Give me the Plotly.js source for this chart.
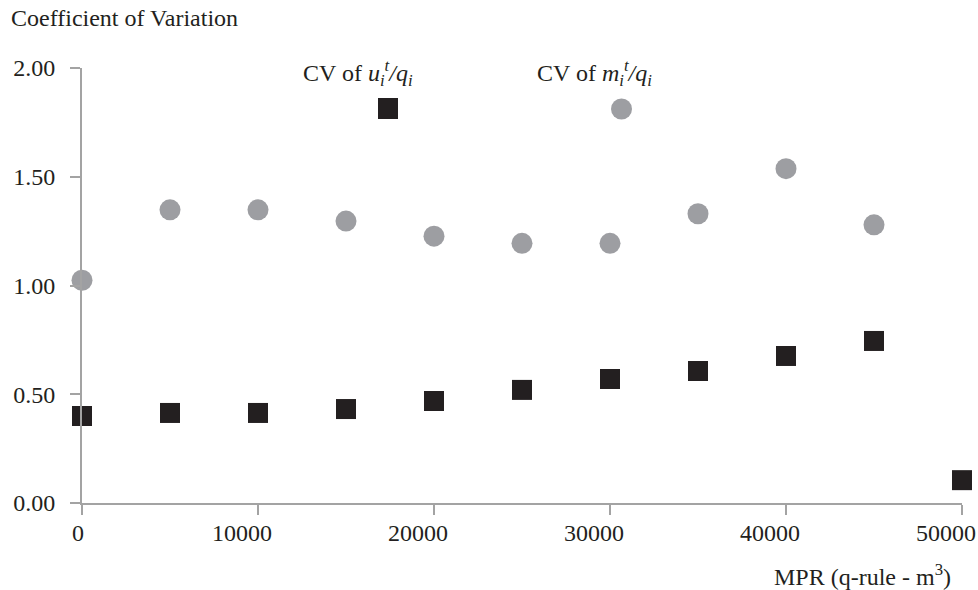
<!DOCTYPE html>
<html>
<head>
<meta charset="utf-8">
<script src="https://cdn.plot.ly/plotly-3.0.1.min.js"></script>
<style>
  html, body { margin: 0; padding: 0; background: #ffffff; }
  #chart { width: 978px; height: 590px; }
</style>
</head>
<body>
<div id="chart"></div>
<script>
// MPR levels (q-rule, m3)
const mpr = [0, 5000, 10000, 15000, 20000, 25000, 30000, 35000, 40000, 45000, 50000];

// Coefficient of variation of u_i^t / q_i at each MPR level
const cvU = [0.40, 0.414, 0.414, 0.432, 0.469, 0.520, 0.570, 0.607, 0.676, 0.745, 0.105];

// Coefficient of variation of m_i^t / q_i (no value at 50000)
const mprM = [0, 5000, 10000, 15000, 20000, 25000, 30000, 35000, 40000, 45000];
const cvM = [1.024, 1.348, 1.348, 1.296, 1.227, 1.194, 1.194, 1.330, 1.537, 1.279];

const xTicks = [0, 10000, 20000, 30000, 40000, 50000];
const xTickLabels = ['0', '10000', '20000', '30000', '40000', '50000'];
const yTicks = [0, 0.5, 1.0, 1.5, 2.0];

const labelU = 'CV of <i>u<sub>i</sub><sup>t</sup>/q<sub>i</sub></i>';
const labelM = 'CV of <i>m<sub>i</sub><sup>t</sup>/q<sub>i</sub></i>';

const ink = '#231f20';
const grey = '#9d9ea2';
const axisGrey = '#a3a3a3';
const font = 'Liberation Serif, Times New Roman, serif';
const fs = 24;

const traces = [
  {
    type: 'scatter', mode: 'markers', name: 'CV of u/q',
    x: mpr, y: cvU, cliponaxis: false,
    marker: { symbol: 'square', size: 20, color: ink }
  },
  {
    type: 'scatter', mode: 'markers', name: 'CV of m/q',
    x: mprM, y: cvM, cliponaxis: false,
    marker: { symbol: 'circle', size: 21, color: grey }
  }
];

// plot area: 880 x 435 px
const W = 880, H = 435;
const px = v => (v - 82) / W;      // page x -> paper x
const py = v => (503 - v) / H;     // page y -> paper y

// x tick labels: placed on the axis scale, nudged left of their ticks
const xLabelAnnotations = xTicks.map((v, i) => ({
  text: xTickLabels[i], xref: 'x', yref: 'paper',
  x: v, y: py(533), xanchor: 'center', yanchor: 'middle',
  xshift: v === 0 ? -4 : -16,
  showarrow: false, font: { family: font, size: fs, color: ink }
}));

const layout = {
  width: 978, height: 590,
  margin: { l: 82, r: 16, t: 68, b: 87 },
  paper_bgcolor: '#ffffff', plot_bgcolor: '#ffffff',
  showlegend: false,
  font: { family: font, size: fs, color: ink },
  title: {
    text: 'Coefficient of Variation',
    x: 11 / 978, xanchor: 'left', xref: 'container',
    y: 1 - 18 / 590, yanchor: 'middle', yref: 'container',
    font: { family: font, size: fs, color: ink }
  },
  xaxis: {
    range: [0, 50000], tickvals: xTicks, showticklabels: false,
    showgrid: false, zeroline: false,
    showline: true, linecolor: axisGrey, linewidth: 2,
    ticks: 'outside', ticklen: 10, tickwidth: 2, tickcolor: axisGrey
  },
  yaxis: {
    range: [0, 2], tickvals: yTicks, tickformat: '.2f',
    showgrid: false, zeroline: false,
    showline: true, linecolor: axisGrey, linewidth: 2,
    ticks: 'outside', ticklen: 10, tickwidth: 2, tickcolor: axisGrey,
    ticklabelstandoff: 10,
    tickfont: { family: font, size: fs, color: ink }
  },
  annotations: xLabelAnnotations.concat([
    { text: 'MPR (q-rule - m<sup>3</sup>)', xref: 'paper', yref: 'paper',
      x: px(862), y: py(575), xanchor: 'center', yanchor: 'middle',
      showarrow: false, font: { family: font, size: fs, color: ink } },
    { text: labelU, xref: 'paper', yref: 'paper',
      x: px(358), y: py(73), xanchor: 'center', yanchor: 'middle',
      showarrow: false, font: { family: font, size: fs, color: ink } },
    { text: labelM, xref: 'paper', yref: 'paper',
      x: px(594), y: py(73), xanchor: 'center', yanchor: 'middle',
      showarrow: false, font: { family: font, size: fs, color: ink } }
  ]),
  shapes: [
    // legend keys
    { type: 'rect', xref: 'paper', yref: 'paper',
      x0: px(378), x1: px(398), y0: py(119), y1: py(98),
      fillcolor: ink, line: { width: 0 } },
    { type: 'circle', xref: 'paper', yref: 'paper',
      x0: px(611), x1: px(632), y0: py(119.5), y1: py(98.5),
      fillcolor: grey, line: { width: 0 } }
  ]
};

Plotly.newPlot('chart', traces, layout, { displayModeBar: false, staticPlot: true });
</script>
</body>
</html>
